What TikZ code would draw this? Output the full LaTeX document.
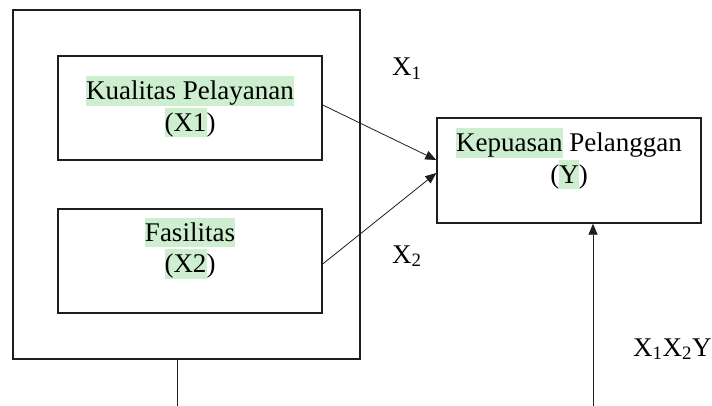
\documentclass[tikz,border=0pt]{standalone}
\usepackage{fontspec}
\setmainfont{Liberation Serif}
\usetikzlibrary{arrows.meta,calc}
\definecolor{hlgreen}{RGB}{205,238,207}
\definecolor{inkline}{RGB}{30,30,30}
\newcommand{\hlg}[1]{{\setlength{\fboxsep}{0pt}\colorbox{hlgreen}{\rule[-0.216em]{0pt}{1.09em}#1}}}
\begin{document}
\begin{tikzpicture}[x=1pt,y=-1pt,
  box/.style={draw=inkline, line width=1.4pt, inner sep=0pt},
  txt/.style={align=center, inner sep=0pt, font=\fontsize{27}{31.5}\selectfont, anchor=north},
  lbl/.style={inner sep=0pt, font=\fontsize{27}{31.5}\selectfont, anchor=base west},
  conn/.style={draw=inkline, line width=0.8pt},
  arr/.style={conn, -{Triangle[length=11pt,width=9pt]}}]
\useasboundingbox (0,0) rectangle (712,406);
\node[box, minimum width=347pt, minimum height=349pt] (outer) at (186.5,184.5) {};
\node[box, minimum width=264pt, minimum height=104pt] (box1) at (190,108) {};
\node[box, minimum width=264pt, minimum height=104pt] (box2) at (190,261) {};
\node[box, minimum width=264pt, minimum height=105pt] (rbox) at (569,170.5) {};
\node[txt] (t1) at (190,76) {\hlg{Kualitas Pelayanan}\\\hlg{(X1})};
\node[txt] (t2) at (190,217.5) {\hlg{Fasilitas}\\\hlg{(X2})};
\node[txt] (t3) at (569,128) {\hlg{Kepuasan} Pelanggan\\(\hlg{Y})};
\draw[arr] ($(box1.east)+(0,-3)$) -- ($(rbox.west)+(0,-10.5)$);
\draw[arr] ($(box2.east)+(0,3)$) -- ($(rbox.west)+(0,2.5)$);
\coordinate (b1) at (177,406);
\draw[conn] (outer.south -| b1) -- (b1);
\coordinate (b2) at (593,406);
\draw[arr] (b2) -- (rbox.south -| b2);
\node[lbl] (l1) at (392,76) {X\textsubscript{1}};
\node[lbl] (l2) at (392,263) {X\textsubscript{2}};
\node[lbl] (l3) at (633,356) {X\textsubscript{1}X\textsubscript{2}Y};
\end{tikzpicture}
\end{document}
